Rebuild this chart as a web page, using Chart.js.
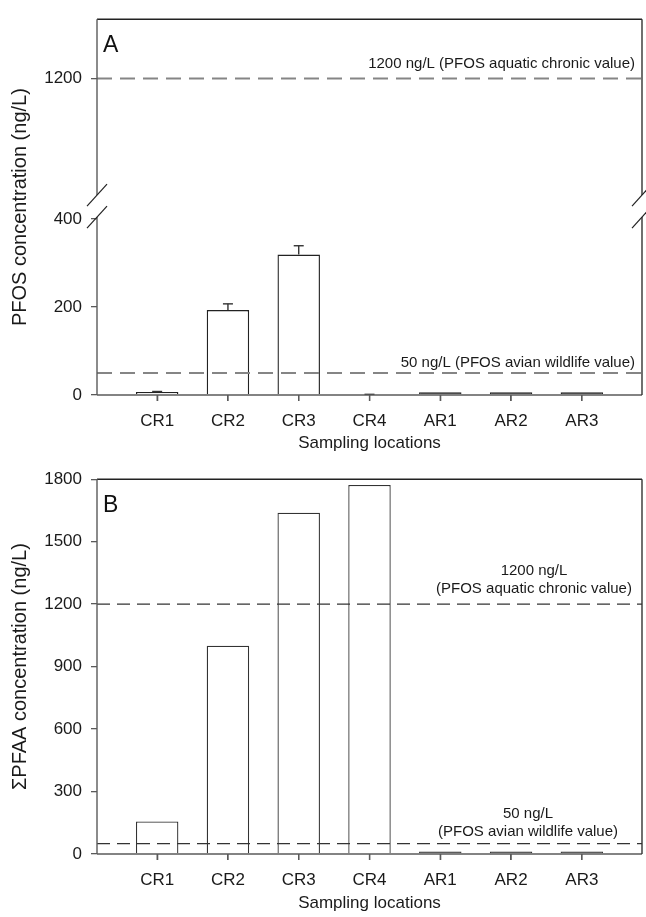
<!DOCTYPE html>
<html>
<head>
<meta charset="utf-8">
<script src="https://cdn.jsdelivr.net/npm/chart.js@4.4.0/dist/chart.umd.min.js"></script>
<style>
  html, body { margin: 0; padding: 0; background: #fff; }
  #wrap { position: relative; width: 646px; height: 917px; }
  canvas { position: absolute; left: 0; }
  #chartA { top: 0; }
  #chartB { top: 460px; }
</style>
</head>
<body>
<div id="wrap">
  <canvas id="chartA" width="646" height="460"></canvas>
  <canvas id="chartB" width="646" height="457"></canvas>
</div>
<script>
const locations = ['CR1', 'CR2', 'CR3', 'CR4', 'AR1', 'AR2', 'AR3'];

// panel A: PFOS (mean + upper error)
const pfos = [7, 193, 319, 0, 6, 6, 6];
const pfosErr = [1, 14, 20, 1.5, 0, 0, 0];
const pfosLowTicks = [0, 200, 400];
const pfosHighTicks = [1200];

// panel B: sum of PFAAs
const pfaa = [156, 1000, 1639, 1772, 12, 12, 12];
const pfaaTicks = [0, 300, 600, 900, 1200, 1500, 1800];

// guideline values
const guideValues = [1200, 50];
const guideTextA = ['1200 ng/L (PFOS aquatic chronic value)', '50 ng/L (PFOS avian wildlife value)'];
const guideTextB = [['1200 ng/L', '(PFOS aquatic chronic value)'], ['50 ng/L', '(PFOS avian wildlife value)']];

const FONT = '"Liberation Sans", Arial, sans-serif';
Chart.defaults.font.family = FONT;
Chart.defaults.color = '#1a1a1a';

const AXIS = '#5a5a5a';

// very low bars only show as their dark outline in the original
const barFill = limit => c => (c.raw && c.raw.y < limit ? '#222' : '#fff');

function xAxis(h, titleBottom) {
  return {
    type: 'linear', min: 0.15, max: 7.85, offset: false,
    afterBuildTicks: s => { s.ticks = locations.map((_, i) => ({ value: i + 1 })); },
    afterFit: s => { s.height = h; },
    ticks: { callback: v => locations[v - 1], font: { size: 17 }, padding: 10, autoSkip: false, maxRotation: 0 },
    grid: { offset: false, drawOnChartArea: false, tickLength: 6, color: AXIS, lineWidth: 1.3 },
    border: { display: false },
    title: { display: true, text: 'Sampling locations', font: { size: 17 }, padding: { top: 0, bottom: titleBottom } }
  };
}

function yAxis(min, max, tickVals, extra) {
  return Object.assign({
    type: 'linear', position: 'left', min: min, max: max,
    afterBuildTicks: s => { s.ticks = tickVals.map(v => ({ value: v })); },
    afterFit: s => { s.width = 97; },
    ticks: { callback: v => String(v), font: { size: 17 }, padding: 9 },
    grid: { drawOnChartArea: false, tickLength: 6, color: AXIS, lineWidth: 1.3 },
    border: { display: false }
  }, extra || {});
}

function line(ctx, x1, y1, x2, y2) {
  ctx.beginPath(); ctx.moveTo(x1, y1); ctx.lineTo(x2, y2); ctx.stroke();
}

// axis frame, with optional break on the left / right spines
function framePlugin(withBreak) {
  return {
    id: 'frame',
    afterDraw(chart) {
      const { ctx, chartArea: a } = chart;
      const xs = chart.scales.x;
      ctx.save();
      ctx.lineCap = 'butt';
      ctx.strokeStyle = '#222'; ctx.lineWidth = 1.6;
      line(ctx, a.left, a.top, a.right, a.top);
      ctx.strokeStyle = AXIS; ctx.lineWidth = 1.4;
      line(ctx, a.left, a.bottom, a.right, a.bottom);
      // category tick marks
      ctx.lineWidth = 1.3;
      locations.forEach((_, i) => {
        const x = xs.getPixelForValue(i + 1);
        line(ctx, x, a.bottom, x, a.bottom + 6);
      });
      ctx.lineWidth = 1.4;
      [a.left, a.right].forEach(x => {
        ctx.strokeStyle = x === a.left ? AXIS : '#333';
        if (withBreak) {
          const mid = chart.scales.y.top;
          line(ctx, x, a.top, x, mid - 11);
          line(ctx, x, mid + 11, x, a.bottom);
          ctx.strokeStyle = '#222'; ctx.lineWidth = 1.2;
          line(ctx, x - 10, mid, x + 10, mid - 22);
          line(ctx, x - 10, mid + 22, x + 10, mid);
          ctx.lineWidth = 1.4;
        } else {
          line(ctx, x, a.top, x, a.bottom);
        }
      });
      ctx.restore();
    }
  };
}

function yTitlePlugin(text) {
  return {
    id: 'ytitle',
    afterDraw(chart) {
      const { ctx, chartArea: a } = chart;
      ctx.save();
      ctx.translate(20, (a.top + a.bottom) / 2);
      ctx.rotate(-Math.PI / 2);
      ctx.font = '20px ' + FONT;
      ctx.fillStyle = '#1a1a1a';
      ctx.textAlign = 'center'; ctx.textBaseline = 'middle';
      ctx.fillText(text, 0, 0);
      ctx.restore();
    }
  };
}

function letterPlugin(letter) {
  return {
    id: 'letter',
    afterDraw(chart) {
      const { ctx, chartArea: a } = chart;
      ctx.save();
      ctx.font = '23px ' + FONT;
      ctx.fillStyle = '#111';
      ctx.textBaseline = 'alphabetic';
      ctx.fillText(letter, a.left + 6, a.top + 33);
      ctx.restore();
    }
  };
}

// panel A ------------------------------------------------------------
const guidesA = {
  id: 'guidesA',
  afterDatasetsDraw(chart) {
    const { ctx, chartArea: a, scales } = chart;
    const yFor = [scales.y2, scales.y];
    const baseOff = [11, 6];
    ctx.save();
    guideValues.forEach((v, i) => {
      const y = yFor[i].getPixelForValue(v);
      ctx.strokeStyle = '#858585'; ctx.lineWidth = 2; ctx.setLineDash([15, 8]);
      line(ctx, a.left, y, a.right, y);
      ctx.setLineDash([]);
      ctx.font = '15px ' + FONT; ctx.fillStyle = '#1a1a1a';
      ctx.textAlign = 'right'; ctx.textBaseline = 'alphabetic';
      ctx.fillText(guideTextA[i], a.right - 7, y - baseOff[i]);
    });
    ctx.restore();
  }
};

const errorBars = {
  id: 'errorBars',
  afterDatasetsDraw(chart) {
    const { ctx, scales } = chart;
    const meta = chart.getDatasetMeta(0);
    ctx.save();
    ctx.strokeStyle = '#333'; ctx.lineWidth = 1.4;
    meta.data.forEach((bar, i) => {
      if (!pfosErr[i]) return;
      const yTop = scales.y.getPixelForValue(pfos[i] + pfosErr[i]);
      line(ctx, bar.x, bar.y, bar.x, yTop);
      line(ctx, bar.x - 5, yTop, bar.x + 5, yTop);
    });
    ctx.restore();
  }
};

new Chart(document.getElementById('chartA'), {
  type: 'bar',
  data: {
    datasets: [{
      data: pfos.map((v, i) => ({ x: i + 1, y: v })),
      yAxisID: 'y',
      backgroundColor: barFill(6.5), borderColor: '#222', borderWidth: 1.4,
      barPercentage: 0.6, categoryPercentage: 1
    }]
  },
  options: {
    responsive: false, animation: false,
    layout: { padding: { top: 15, right: 4, left: 0, bottom: 0 } },
    plugins: { legend: { display: false }, tooltip: { enabled: false } },
    scales: {
      x: xAxis(65, 6),
      y: yAxis(0, 429, pfosLowTicks, { stack: 'pfos', stackWeight: 191 }),
      y2: yAxis(800, 1386, pfosHighTicks, { stack: 'pfos', stackWeight: 189 })
    }
  },
  plugins: [guidesA, errorBars, framePlugin(true), yTitlePlugin('PFOS concentration (ng/L)'), letterPlugin('A')]
});

// panel B ------------------------------------------------------------
const guidesB = {
  id: 'guidesB',
  afterDatasetsDraw(chart) {
    const { ctx, chartArea: a, scales } = chart;
    const centerOff = [108, 114];
    const baseOff = [11, 8];
    ctx.save();
    guideValues.forEach((v, i) => {
      const y = scales.y.getPixelForValue(v);
      ctx.strokeStyle = '#333'; ctx.lineWidth = 1.2; ctx.setLineDash([13, 7]);
      line(ctx, a.left, y, a.right, y);
      ctx.setLineDash([]);
      ctx.font = '15px ' + FONT; ctx.fillStyle = '#1a1a1a';
      ctx.textAlign = 'center'; ctx.textBaseline = 'alphabetic';
      const cx = a.right - centerOff[i];
      ctx.fillText(guideTextB[i][1], cx, y - baseOff[i]);
      ctx.fillText(guideTextB[i][0], cx, y - baseOff[i] - 18);
    });
    ctx.restore();
  }
};

new Chart(document.getElementById('chartB'), {
  type: 'bar',
  data: {
    datasets: [{
      data: pfaa.map((v, i) => ({ x: i + 1, y: v })),
      backgroundColor: barFill(15), borderColor: '#333', borderWidth: 1.3,
      barPercentage: 0.6, categoryPercentage: 1
    }]
  },
  options: {
    responsive: false, animation: false,
    layout: { padding: { top: 14, right: 4, left: 0, bottom: 0 } },
    plugins: { legend: { display: false }, tooltip: { enabled: false } },
    scales: {
      x: xAxis(63, 3),
      y: yAxis(0, 1800, pfaaTicks)
    }
  },
  plugins: [guidesB, framePlugin(false), yTitlePlugin('\u03A3PFAA concentration (ng/L)'), letterPlugin('B')]
});
</script>
</body>
</html>
